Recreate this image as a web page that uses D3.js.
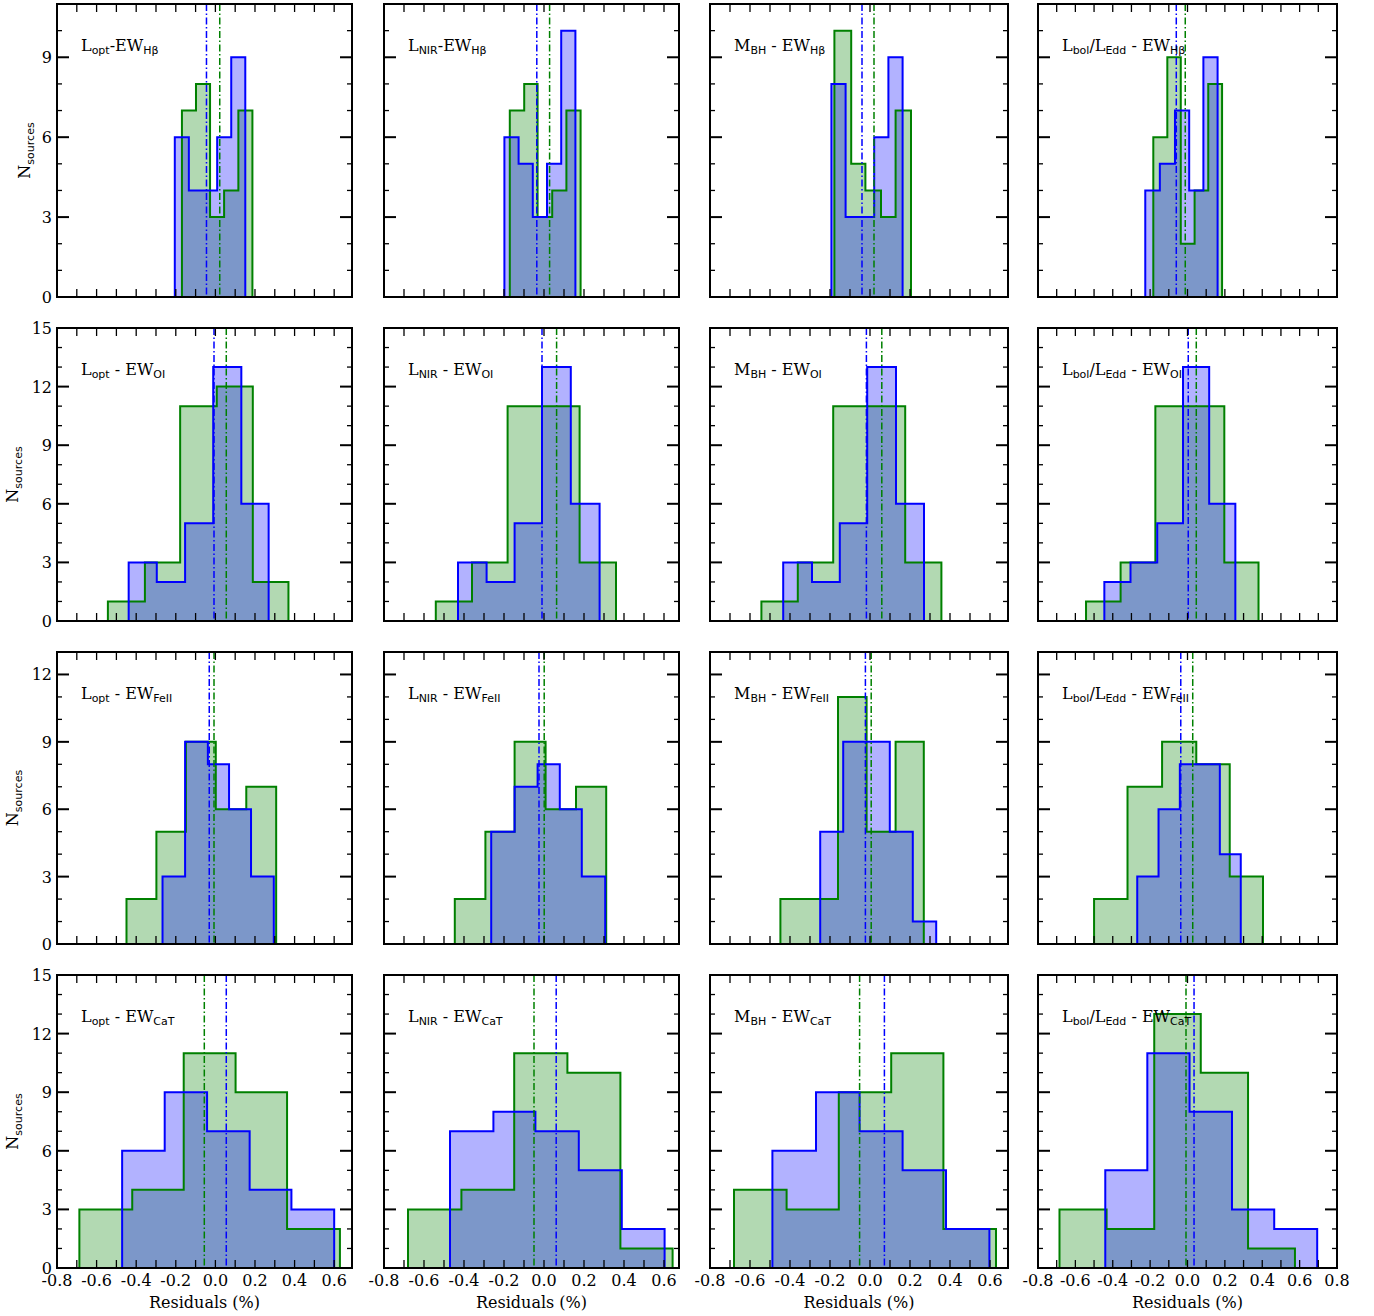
<!DOCTYPE html>
<html>
<head>
<meta charset="utf-8">
<script src="https://cdn.jsdelivr.net/npm/d3@7"></script>
<style>
  body { margin: 0; background: #fff; }
  text { font-family: "DejaVu Serif", "Liberation Serif", serif; }
</style>
</head>
<body>
<svg id="drawing_region"></svg>
<script>
// panel titles: [main, sub] pairs
const rowLines = ["Hβ", "OI", "FeII", "CaT"];
const colParams = [["L", "opt"], ["L", "NIR"], ["M", "BH"], ["Ledd"]];
const yMax = [11, 15, 13, 15];
const xMax = [0.69, 0.675, 0.69, 0.8];

// histograms: green edges/counts, blue edges/counts, per row then column
const greenEdges = [
  [[-0.169,-0.098,-0.027,0.044,0.116,0.187], [-0.171,-0.099,-0.032,0.041,0.112,0.183], [-0.178,-0.094,-0.023,0.055,0.128,0.205], [-0.183,-0.108,-0.036,0.038,0.111,0.185]],
  [[-0.543,-0.356,-0.178,0.007,0.189,0.369], [-0.541,-0.36,-0.182,-0.003,0.178,0.36], [-0.543,-0.361,-0.184,-0.005,0.176,0.357], [-0.543,-0.358,-0.172,0.011,0.197,0.38]],
  [[-0.449,-0.298,-0.149,0.002,0.156,0.307], [-0.446,-0.293,-0.147,0.008,0.16,0.311], [-0.448,-0.304,-0.16,-0.017,0.128,0.269], [-0.5,-0.321,-0.136,0.047,0.226,0.404]],
  [[-0.687,-0.42,-0.16,0.102,0.362,0.629], [-0.68,-0.413,-0.149,0.117,0.382,0.643], [-0.68,-0.417,-0.156,0.106,0.367,0.63], [-0.685,-0.433,-0.178,0.071,0.324,0.575]]
];
const greenCounts = [
  [[7,8,3,4,7], [7,8,3,4,7], [10,5,4,3,7], [6,9,2,4,8]],
  [[1,3,11,12,2], [1,3,11,11,3], [1,3,11,11,3], [1,3,11,11,3]],
  [[2,5,9,6,7], [2,5,9,6,7], [2,2,11,5,9], [2,7,9,8,3]],
  [[3,4,11,9,2], [3,4,11,10,1], [4,3,9,11,2], [3,2,13,10,1]]
];
const blueEdges = [
  [[-0.205,-0.134,-0.063,0.009,0.08,0.151], [-0.198,-0.127,-0.056,0.015,0.086,0.157], [-0.193,-0.122,-0.051,0.021,0.092,0.163], [-0.226,-0.148,-0.067,0.009,0.085,0.161]],
  [[-0.438,-0.296,-0.153,-0.011,0.131,0.269], [-0.43,-0.287,-0.147,-0.01,0.134,0.278], [-0.434,-0.29,-0.151,-0.014,0.13,0.27], [-0.445,-0.305,-0.162,-0.024,0.116,0.256]],
  [[-0.267,-0.153,-0.038,0.069,0.18,0.295], [-0.264,-0.147,-0.032,0.079,0.189,0.306], [-0.249,-0.134,-0.017,0.099,0.214,0.331], [-0.269,-0.155,-0.041,0.066,0.173,0.285]],
  [[-0.471,-0.256,-0.042,0.173,0.384,0.6], [-0.47,-0.253,-0.043,0.174,0.389,0.603], [-0.488,-0.27,-0.052,0.163,0.38,0.597], [-0.44,-0.215,0.011,0.238,0.464,0.694]]
];
const blueCounts = [
  [[6,4,4,6,9], [6,5,3,5,10], [8,3,3,6,9], [4,5,7,4,9]],
  [[3,2,5,13,6], [3,2,5,13,6], [3,2,5,13,6], [2,3,5,13,6]],
  [[3,9,8,6,3], [5,7,8,6,3], [5,9,9,5,1], [3,6,8,8,4]],
  [[6,9,7,4,3], [7,8,7,5,2], [6,9,7,5,2], [5,11,8,3,2]]
];
const greenMeans = [[0.022,0.028,0.02,-0.012],[0.055,0.063,0.059,0.047],[-0.007,0.001,0.006,0.028],[-0.056,-0.05,-0.052,-0.008]];
const blueMeans = [[-0.045,-0.036,-0.04,-0.06],[-0.007,-0.01,-0.018,0.004],[-0.031,-0.025,-0.023,-0.036],[0.055,0.061,0.072,0.035]];

const colLeft = [57, 384, 710, 1038], colRight = [352, 679, 1008, 1337];
const rowTop = [4, 328, 652, 975], rowBottom = [297, 621, 944, 1268];

const svg = d3.select("#drawing_region").attr("width", 1374).attr("height", 1316);

function stepPoints(edges, counts) {
  const pts = [[edges[0], 0]];
  counts.forEach((c, i) => { pts.push([edges[i], c]); pts.push([edges[i + 1], c]); });
  pts.push([edges[edges.length - 1], 0]);
  return pts;
}

for (let r = 0; r < 4; r++) {
  for (let c = 0; c < 4; c++) {
    const x = d3.scaleLinear().domain([-0.8, xMax[c]]).range([colLeft[c], colRight[c]]);
    const y = d3.scaleLinear().domain([0, yMax[r]]).range([rowBottom[r], rowTop[r]]);
    const g = svg.append("g");
    const line = d3.line().x(d => x(d[0])).y(d => y(d[1]));
    const gp = stepPoints(greenEdges[r][c], greenCounts[r][c]);
    const bp = stepPoints(blueEdges[r][c], blueCounts[r][c]);
    g.append("path").attr("d", line(gp) + "Z").attr("fill", "green").attr("fill-opacity", 0.3);
    g.append("path").attr("d", line(bp) + "Z").attr("fill", "blue").attr("fill-opacity", 0.3);
    g.append("path").attr("d", line(gp)).attr("fill", "none").attr("stroke", "green").attr("stroke-width", 2);
    g.append("path").attr("d", line(bp)).attr("fill", "none").attr("stroke", "blue").attr("stroke-width", 2);

    [[greenMeans, "green"], [blueMeans, "blue"]].forEach(([m, col]) => {
      g.append("line")
        .attr("x1", x(m[r][c])).attr("x2", x(m[r][c]))
        .attr("y1", rowTop[r]).attr("y2", rowBottom[r])
        .attr("stroke", col).attr("stroke-width", 1.5)
        .attr("stroke-dasharray", "7,2.5,1.5,2.5");
    });

    // ticks (inward, all sides)
    const xt = d3.range(-8, Math.floor(xMax[c] * 10 + 1e-6) + 1).map(v => v / 10);
    xt.forEach(v => {
      g.append("line").attr("x1", x(v)).attr("x2", x(v)).attr("y1", rowBottom[r]).attr("y2", rowBottom[r] - 8).attr("stroke", "#000").attr("stroke-width", 1.3);
      g.append("line").attr("x1", x(v)).attr("x2", x(v)).attr("y1", rowTop[r]).attr("y2", rowTop[r] + 8).attr("stroke", "#000").attr("stroke-width", 1.3);
    });
    d3.range(0, yMax[r] + 1).forEach(v => {
      const len = v % 3 === 0 ? 12 : 5, w = v % 3 === 0 ? 2 : 1.3;
      g.append("line").attr("x1", colLeft[c]).attr("x2", colLeft[c] + len).attr("y1", y(v)).attr("y2", y(v)).attr("stroke", "#000").attr("stroke-width", w);
      g.append("line").attr("x1", colRight[c]).attr("x2", colRight[c] - len).attr("y1", y(v)).attr("y2", y(v)).attr("stroke", "#000").attr("stroke-width", w);
    });

    g.append("rect").attr("x", colLeft[c]).attr("y", rowTop[r])
      .attr("width", colRight[c] - colLeft[c]).attr("height", rowBottom[r] - rowTop[r])
      .attr("fill", "none").attr("stroke", "#000").attr("stroke-width", 2);

    if (c === 0) {
      d3.range(0, yMax[r] + 1, 3).forEach(v => {
        g.append("text").attr("x", colLeft[c] - 5).attr("y", y(v) + 6)
          .attr("text-anchor", "end").attr("font-size", 16).text(v);
      });
      const lx = r === 0 ? 30 : 18;
      g.append("text").attr("transform", `translate(${lx},${(rowTop[r] + rowBottom[r]) / 2}) rotate(-90)`)
        .attr("text-anchor", "middle").attr("font-size", 16)
        .call(t => {
          t.append("tspan").text("N");
          t.append("tspan").attr("font-size", 11).attr("font-family", "DejaVu Sans").attr("dy", 4).text("sources");
        });
    }
    if (r === 3) {
      d3.range(-8, Math.floor(xMax[c] * 10 + 1e-6) + 1, 2).forEach(v => {
        g.append("text").attr("x", x(v / 10)).attr("y", rowBottom[r] + 18)
          .attr("text-anchor", "middle").attr("font-size", 16).text(d3.format(".1f")(v / 10).replace("−", "-"));
      });
      g.append("text").attr("x", (colLeft[c] + colRight[c]) / 2).attr("y", rowBottom[r] + 40)
        .attr("text-anchor", "middle").attr("font-size", 16).text("Residuals (%)");
    }

    // panel label
    const sep = r === 0 && c < 2 ? "-" : " - ";
    const t = g.append("text").attr("x", colLeft[c] + 24).attr("y", rowTop[r] + 47).attr("font-size", 16);
    const sub = (s) => t.append("tspan").attr("font-size", 11).attr("font-family", "DejaVu Sans").attr("dy", 3).text(s);
    const main = (s, up) => t.append("tspan").attr("dy", up ? -3 : 0).text(s);
    if (c === 3) {
      main("L"); sub("bol"); main("/L", true); sub("Edd");
    } else {
      main(colParams[c][0]); sub(colParams[c][1]);
    }
    main(sep + "EW", true); sub(rowLines[r]);
  }
}
</script>
</body>
</html>
